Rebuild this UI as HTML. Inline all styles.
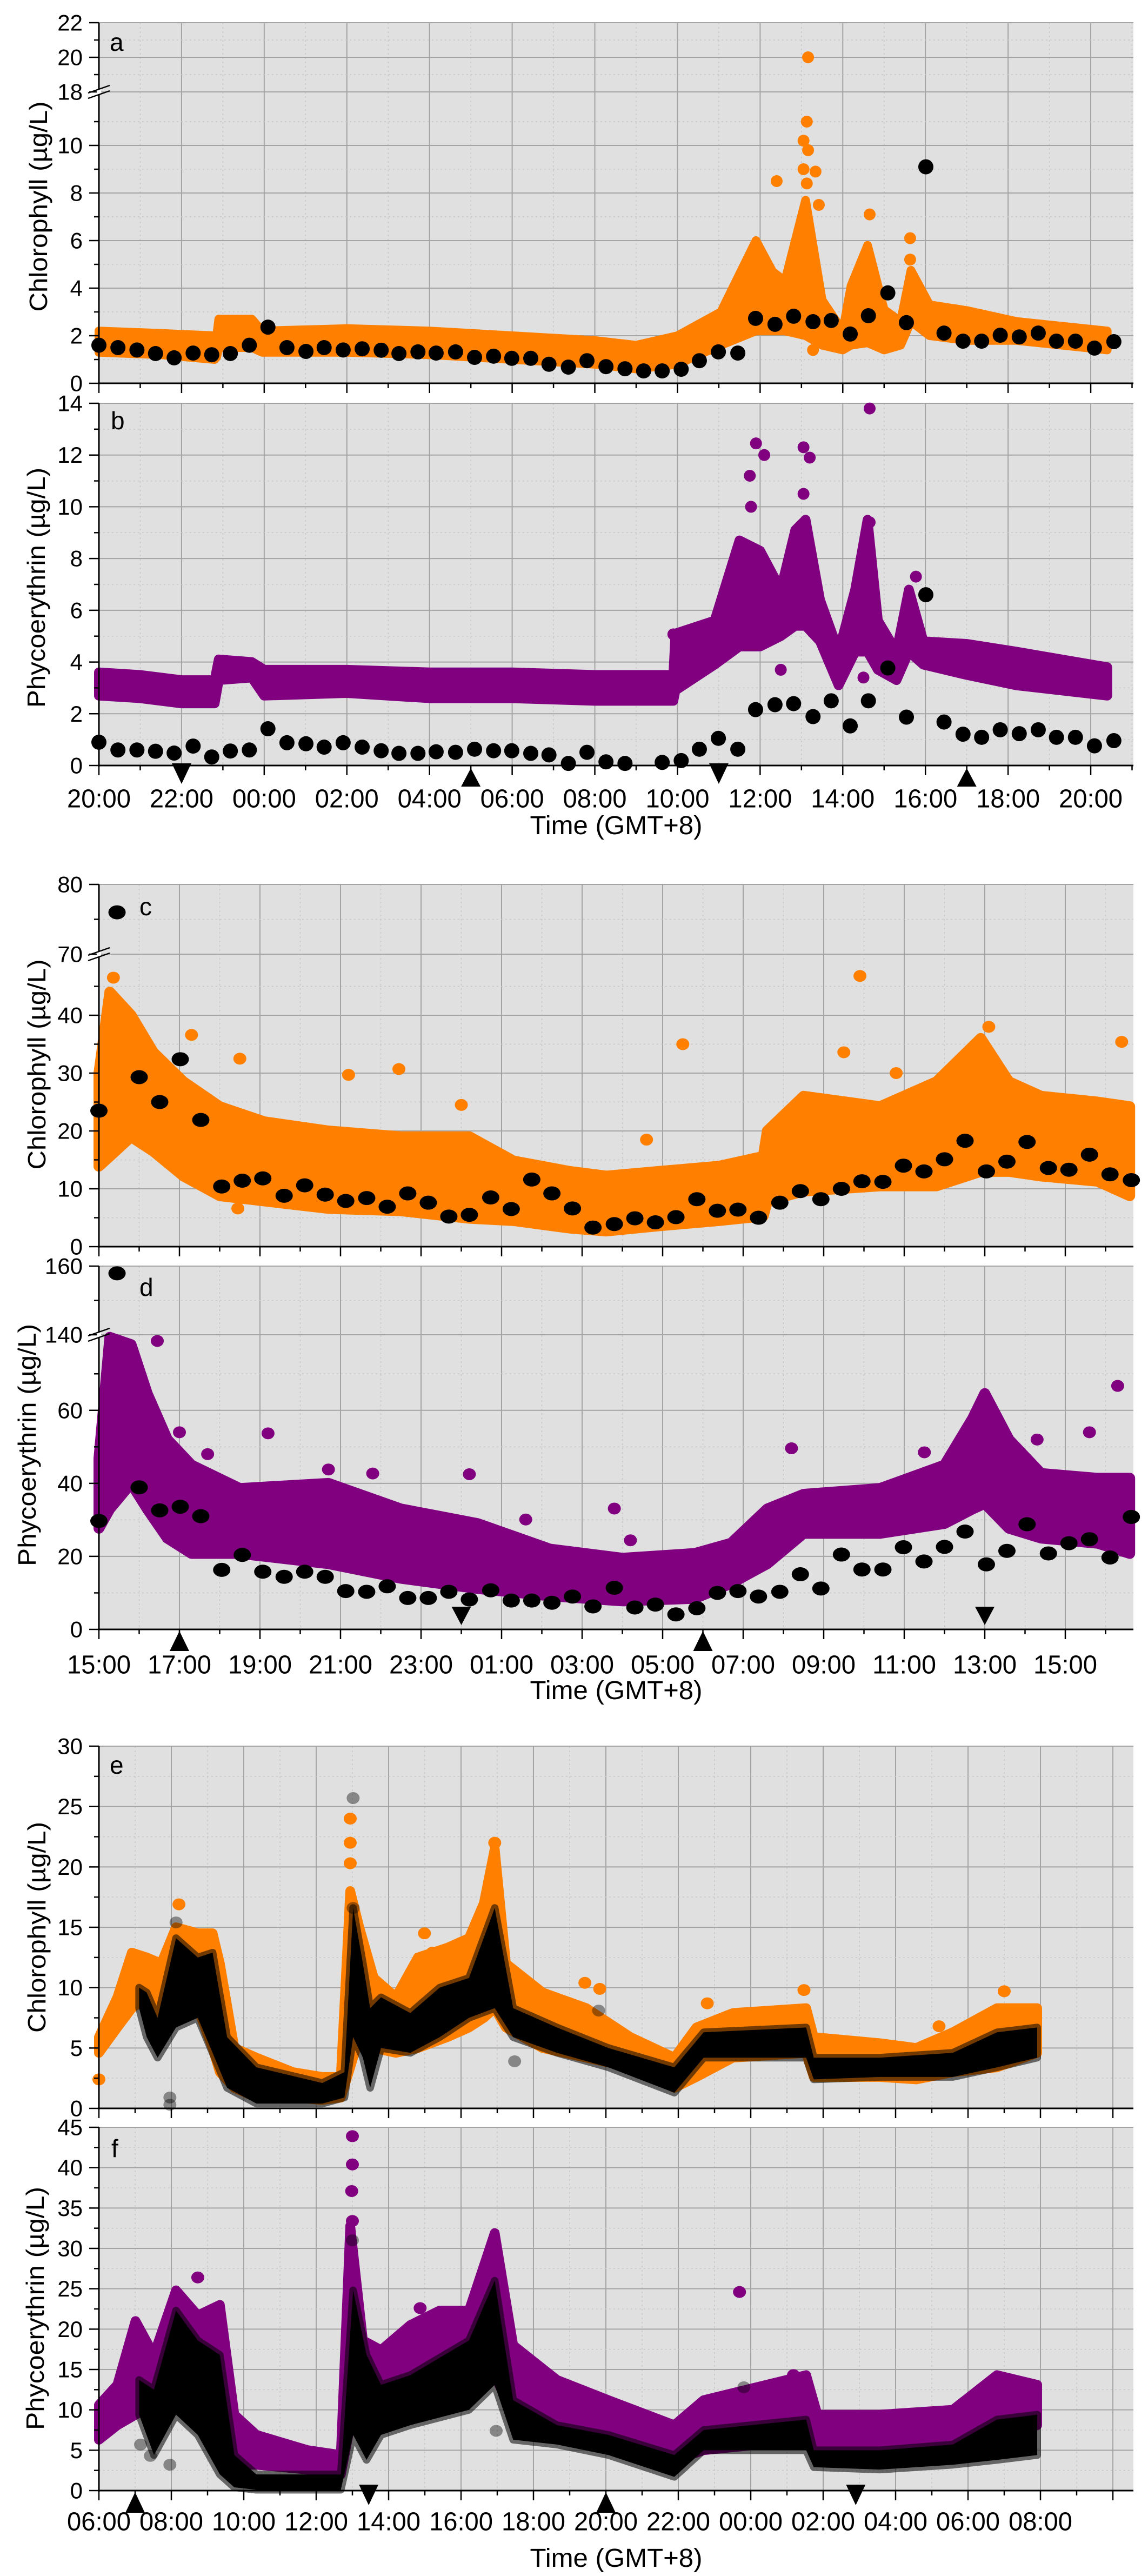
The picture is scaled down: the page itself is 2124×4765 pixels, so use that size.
<!DOCTYPE html>
<html><head><meta charset="utf-8"><title>Chlorophyll and phycoerythrin time series</title>
<style>html,body{margin:0;padding:0;background:#fff}svg{display:block}text{font-family:"Liberation Sans",sans-serif;fill:#000}</style>
</head><body>
<svg id="chart" xmlns="http://www.w3.org/2000/svg" width="2124" height="4765" viewBox="0 0 2124 4765"></svg>
<script>
// ---------- DATA ----------
// Panel a/b: hours since 20:00
const AB_DISC_T = [0,0.46,0.92,1.37,1.82,2.28,2.73,3.18,3.64,4.09,4.55,5.01,5.45,5.91,6.37,6.83,7.26,7.72,8.16,8.63,9.09,9.55,9.99,10.45,10.89,11.36,11.81,12.27,12.73,13.18,13.63,14.09,14.53,14.99,15.46,15.89,16.36,16.81,17.28,17.72,18.18,18.62,19.09,19.54,20.01,20.45,20.91,21.36,21.81,22.27,22.73,23.17,23.63,24.09,24.56];
const A_DISC_V = [1.6,1.5,1.4,1.25,1.07,1.27,1.2,1.25,1.6,2.36,1.5,1.34,1.5,1.4,1.45,1.39,1.25,1.32,1.27,1.32,1.09,1.14,1.05,1.05,0.8,0.68,0.95,0.7,0.61,0.52,0.52,0.59,0.95,1.32,1.27,2.73,2.48,2.82,2.59,2.64,2.07,2.84,3.8,2.55,9.1,2.11,1.77,1.77,2.02,1.95,2.11,1.77,1.77,1.48,1.75];
const B_DISC_V = [0.9,0.6,0.6,0.55,0.48,0.75,0.33,0.56,0.6,1.42,0.88,0.84,0.71,0.88,0.71,0.57,0.47,0.47,0.53,0.51,0.63,0.57,0.57,0.47,0.41,0.08,0.51,0.14,0.08,null,0.12,0.19,0.63,1.05,0.63,2.16,2.35,2.39,1.89,2.5,1.53,2.5,3.77,1.87,6.6,1.68,1.21,1.09,1.38,1.23,1.38,1.09,1.09,0.76,0.96];
const A_BAND_T = [0,1.5,2.8,2.85,2.9,3.7,3.95,6,8,10,12,13,14,15.05,15.9,16.3,16.6,17.1,17.5,18.0,18.2,18.6,19.0,19.4,19.65,20.1,21.0,22.2,24.4];
const A_BAND_LO = [1.3,1.2,1.0,1.1,1.5,1.5,1.3,1.3,1.2,1.0,0.8,0.6,0.8,1.6,2.2,2.2,2.2,2.0,1.6,1.4,1.6,1.7,1.4,1.6,2.6,2.0,1.8,1.8,1.4];
const A_BAND_HI = [2.2,2.1,2.0,2.0,2.7,2.7,2.2,2.3,2.2,2.0,1.8,1.6,2.0,3.0,6.0,4.7,4.3,7.7,3.5,2.2,4.1,5.8,3.1,2.6,4.75,3.3,3.06,2.6,2.2];
const A_OUT_T = [17.16,17.13,17.05,17.16,16.4,17.05,17.13,17.34,17.42,17.1,18.65,19.63,19.63,17.28];
const A_OUT_V = [20.0,11.0,10.2,9.8,8.5,9.0,8.4,8.9,7.5,6.9,7.1,6.1,5.2,1.4];
const B_BAND_T = [0,1.0,2.0,2.8,2.9,3.7,4.0,6,8,10,12,13.1,13.9,13.95,14.9,15.5,16.0,16.5,16.85,17.1,17.45,17.9,18.3,18.6,18.85,19.3,19.6,19.95,21.0,22.2,24.4];
const B_BAND_LO = [2.7,2.6,2.4,2.4,3.3,3.4,2.7,2.8,2.6,2.6,2.5,2.5,2.5,2.9,3.9,4.6,4.6,5.0,5.4,5.4,4.8,3.1,4.4,4.4,3.7,3.3,4.4,3.9,3.5,3.1,2.7];
const B_BAND_HI = [3.6,3.5,3.3,3.3,4.1,4.0,3.7,3.7,3.6,3.6,3.5,3.5,3.5,5.1,5.6,8.7,8.3,6.8,9.1,9.5,6.4,4.4,6.8,9.5,5.6,4.4,6.8,4.8,4.7,4.4,3.8];
const B_OUT_T = [18.65,15.9,16.1,15.75,15.78,17.05,17.2,17.05,18.65,16.5,19.77,13.9,18.5];
const B_OUT_V = [13.8,12.45,12.0,11.2,10.0,12.3,11.9,10.5,9.4,3.7,7.3,5.07,3.4];
const AB_TICK_LABELS = ['20:00','22:00','00:00','02:00','04:00','06:00','08:00','10:00','12:00','14:00','16:00','18:00','20:00'];
const AB_MARK_T = [2,9,15,21];
const AB_MARK_DIR = ['down','up','down','up'];

// Panel c/d: hours since 15:00
const CD_DISC_T = [0,0.45,1.0,1.51,2.02,2.53,3.05,3.56,4.07,4.6,5.11,5.62,6.13,6.65,7.16,7.67,8.18,8.69,9.2,9.73,10.24,10.75,11.25,11.76,12.27,12.8,13.31,13.82,14.33,14.85,15.36,15.87,16.38,16.91,17.42,17.93,18.44,18.95,19.47,19.98,20.49,21.0,21.51,22.04,22.55,23.05,23.58,24.09,24.6,25.11,25.64];
const C_DISC_V = [23.5,76,29.3,25.0,32.4,21.9,10.4,11.4,11.8,8.8,10.6,9.0,7.9,8.4,6.9,9.2,7.6,5.2,5.5,8.5,6.5,11.6,9.2,6.6,3.3,3.9,4.9,4.2,5.1,8.2,6.2,6.4,5.0,7.6,9.6,8.2,10.0,11.3,11.2,14.0,13.0,15.1,18.3,13.0,14.7,18.1,13.6,13.3,15.9,12.5,11.5];
const D_DISC_V = [29.7,157.9,38.9,32.6,33.6,31.0,16.3,20.4,15.8,14.4,15.8,14.4,10.5,10.3,11.8,8.6,8.6,10.3,8.2,10.7,7.9,7.9,7.3,9.0,6.3,11.4,6.0,6.8,4.1,5.8,10.0,10.5,9.0,10.3,15.1,11.2,20.5,16.4,16.4,22.5,18.6,22.6,26.8,17.8,21.5,28.8,20.8,23.6,24.7,19.7,30.8];
const C_BAND_T = [0,0.27,0.8,1.35,2.1,3.0,4.1,5.7,7.5,9.2,10.3,11.7,12.6,13.9,15.4,16.5,16.6,17.5,19.4,20.8,21.9,22.6,23.4,24.8,25.6];
const C_BAND_LO = [13.9,15.6,19,16.5,12.2,8.8,7.9,6.6,6.2,4.9,4.5,3.2,2.7,3.6,4.5,5.3,7.9,9.6,10.5,10.5,13,13,12.2,11.3,8.8];
const C_BAND_HI = [30,44,40,33.6,28.5,24.2,21.6,20,19,19,14.8,13,12.2,13,13.9,15.6,20,26,24.2,28.5,36,28.5,26,25,24.2];
const C_OUT_T = [0.36,2.3,3.5,6.2,7.45,9.0,14.5,13.6,18.9,18.5,19.8,22.1,25.4,3.45];
const C_OUT_V = [46.5,36.6,32.5,29.7,30.7,24.5,35,18.5,46.8,33.6,30,38,35.4,6.6];
const D_BAND_T = [0,0.27,0.8,1.2,1.7,2.3,3.5,5.7,7.5,9.4,11.2,13.0,14.8,15.7,16.6,17.5,19.4,21.0,21.7,22.0,22.6,23.4,24.8,25.6];
const D_BAND_LO = [27.7,33,40,33,25,20.8,20.8,18,14,11.2,9.2,7.8,8.5,12.6,18,26.3,26.3,29,33,34.5,27.7,25,23.6,20.8];
const D_BAND_HI = [46.8,80,78,64.6,52,45,38.6,40,33,29,22,19.5,20.8,23.6,33,37,38.6,45,57.8,64.6,52,42.7,41.4,41.4];
const D_OUT_T = [1.45,2.0,2.7,4.2,5.7,6.8,9.2,10.6,12.8,13.2,17.2,20.5,23.3,24.6,25.3];
const D_OUT_V = [79,54,48,53.7,43.8,42.7,42.5,30.1,33.1,24.4,49.6,48.5,52,54,66.7];
const CD_TICK_LABELS = ['15:00','17:00','19:00','21:00','23:00','01:00','03:00','05:00','07:00','09:00','11:00','13:00','15:00'];
const CD_MARK_T = [2,9,15,22];
const CD_MARK_DIR = ['up','down','up','down'];

// Panel e/f: hours since 06:00
const E_BAND_T = [0,0.51,0.91,1.32,1.72,2.13,2.73,3.14,3.34,3.74,4.35,5.36,6.17,6.68,6.94,7.19,7.59,8.2,8.81,9.62,10.22,10.63,10.93,11.24,12.25,13.46,14.68,15.89,16.5,17.51,19.53,19.74,21.56,22.57,23.58,24.8,25.91];
const E_BAND_LO = [4.6,6.7,8.3,9.2,6.7,8.3,8.3,5,3,1.7,0.9,0.9,0.7,0.9,3.4,5.9,5,4.6,5,5.9,6.7,7.5,8.3,6.7,5,4.2,3.4,1.7,2.6,4.2,4.6,2.6,2.6,2.4,3,3.4,4.6];
const E_BAND_HI = [5.9,9.2,12.9,12.5,12,15,14.5,14.5,12,5,4.2,3,2.6,2.6,18,15,10.8,9.2,12.5,13.3,14.1,17,21.5,12,9.6,8.3,5.9,4.2,6.7,7.9,8.3,5.9,5.4,5,6.3,8.3,8.3];
const E_BLK_T = [1.11,1.32,1.62,2.13,2.73,3.14,3.54,4.35,6.17,6.78,7.02,7.29,7.49,7.79,8.6,9.41,10.22,10.93,11.44,12.65,14.07,15.89,16.7,19.53,19.74,21.56,23.58,24.8,25.91];
const E_BLK_LO = [8.3,5.9,4.2,6.7,7.5,4.6,1.7,0.4,0.4,0.9,5.9,4.2,1.7,5,4.6,5.9,7.5,8.3,5.9,4.6,3.4,1.3,4.2,4.2,2.4,2.6,2.6,3.4,4.2];
const E_BLK_HI = [10,9.6,7.5,14.1,12.5,12.9,5.9,3.4,2.1,3,16.6,12,8.3,9.2,7.9,10,10.8,16.6,8.3,6.7,5,3.4,6.3,6.7,4.2,4.2,4.6,6.3,6.7];
const E_OUT_T = [2.21,6.94,6.94,6.94,8.99,9.21,10.93,13.42,13.83,16.8,19.47,23.2,25.0,0];
const E_OUT_V = [16.9,24,22,20.3,14.5,12.9,22,10.4,9.9,8.7,9.8,6.8,9.7,2.4];
const E_BOUT_T = [7.02,7.02,1.96,1.96,2.13,11.48,13.8];
const E_BOUT_V = [25.7,16.6,0.9,0.3,15.4,3.9,8.1];
const F_BAND_T = [0,0.51,1.01,1.52,2.13,2.73,3.34,3.74,4.35,5.77,6.68,6.94,7.29,7.79,8.6,9.41,10.22,10.93,11.44,12.65,14.07,15.89,16.7,19.53,19.84,21.56,23.58,24.8,25.91];
const F_BAND_LO = [6.3,8.1,9.4,10.6,14.3,12.5,5,3.2,3.2,2.6,2,8.1,9.4,8.8,10.6,11.2,12.5,14.3,9.4,8.1,6.3,3.8,5,6.3,5,5,5.7,6.9,8.1];
const F_BAND_HI = [10.6,13.1,21,16.8,24.8,21.7,23,9.4,6.9,5,4.4,32.8,18.6,17.4,20.5,22.3,22.3,31.9,18,13.7,11.2,8.1,11.2,14.3,9.4,9.4,10,14.3,13.1];
const F_BLK_T = [1.11,1.52,2.13,2.73,3.34,3.74,4.35,6.68,7.02,7.39,7.79,8.6,10.22,10.93,11.44,12.65,14.07,15.89,16.7,19.53,19.74,21.56,23.58,24.8,25.91];
const F_BLK_LO = [9.4,4.4,9.4,6.9,2,0.4,0.1,0.1,6.9,3.8,6.9,8.1,10,13.1,6.3,5.7,4.4,1.7,5,5,2.9,2.6,3.2,3.8,4.4];
const F_BLK_HI = [13.7,12.5,22.3,18.6,16.8,4.4,2,2,24.8,16.8,13.1,14.3,18.6,26,11.2,8.1,6.9,4.4,7.5,8.8,5,5,5.7,8.8,9.4];
const F_OUT_T = [7.0,7.0,6.98,7.0,2.73,17.69,8.87,19.18];
const F_OUT_V = [43.9,40.4,37.1,33.4,26.4,24.6,22.6,14.3];
const F_BOUT_T = [7.0,1.15,1.42,1.96,10.97,17.81];
const F_BOUT_V = [31,5.7,4.3,3.2,7.4,12.8];
const EF_TICK_LABELS = ['06:00','08:00','10:00','12:00','14:00','16:00','18:00','20:00','22:00','00:00','02:00','04:00','06:00','08:00'];
const EF_MARK_T = [1,7.45,14,20.9];
const EF_MARK_DIR = ['up','down','up','down'];

const Y_LABELS_A = [0,2,4,6,8,10,18,20,22];
const Y_MINOR_A = [1,3,5,7,9,11,19,21];
const Y_LABELS_B = [0,2,4,6,8,10,12,14];
const Y_MINOR_B = [1,3,5,7,9,11,13];
const Y_LABELS_C = [0,10,20,30,40,70,80];
const Y_MINOR_C = [5,15,25,35,45,75];
const Y_LABELS_D = [0,20,40,60,140,160];
const Y_MINOR_D = [10,30,50,70,150];
const Y_LABELS_E = [0,5,10,15,20,25,30];
const Y_MINOR_E = [2.5,7.5,12.5,17.5,22.5,27.5];
const Y_LABELS_F = [0,5,10,15,20,25,30,35,40,45];
const Y_MINOR_F = [2.5,7.5,12.5,17.5,22.5,27.5,32.5,37.5,42.5];

// ---------- RENDERING ----------
const NS = 'http://www.w3.org/2000/svg';
const svg = document.getElementById('chart');
const LEFT = 183, RIGHT = 2097;
function mk(tag, attrs, parent) {
  const e = document.createElementNS(NS, tag);
  for (const k in attrs) e.setAttribute(k, attrs[k]);
  (parent || svg).appendChild(e);
  return e;
}
function makeX(pxPerH) { return t => LEFT + t * pxPerH; }
function makeY(p) {
  return v => {
    if (p.breakY == null) return p.bottom - v * (p.bottom - p.top) / p.lowMax;
    if (v <= p.lowMax) return p.bottom - v * (p.bottom - p.breakY) / p.lowMax;
    if (v >= p.upMin) return p.breakY - (v - p.upMin) * (p.breakY - p.top) / (p.upMax - p.upMin);
    return p.breakY;
  };
}

function drawFrame(p, key, X, tMaxMajor, labels, yLabels, yMinor) {
  const Y = makeY(p);
  const g = mk('g', {});
  
  
  const bg = mk('rect', {x: LEFT, y: p.top, width: RIGHT - LEFT, height: p.bottom - p.top, fill: '#e0e0e0'}, g);
  
  
  const tEnd = (RIGHT - LEFT) / ((X(1) - X(0)));
  for (let t = 1; t <= tEnd; t += 2) {
    const l = mk('line', {x1: X(t), x2: X(t), y1: p.top, y2: p.bottom, stroke: '#c6c6c6', 'stroke-width': 1.5, 'stroke-dasharray': '3 5'}, g);
    
    
  }
  for (let t = 2; t <= tMaxMajor; t += 2) {
    const l = mk('line', {x1: X(t), x2: X(t), y1: p.top, y2: p.bottom, stroke: '#a4a4a4', 'stroke-width': 2}, g);
    
    
  }
  yMinor.forEach(v => {
    const l = mk('line', {x1: LEFT, x2: RIGHT, y1: Y(v), y2: Y(v), stroke: '#c6c6c6', 'stroke-width': 1.5, 'stroke-dasharray': '3 5'}, g);
    
    
  });
  yLabels.forEach(v => {
    if (v === 0) return;
    const l = mk('line', {x1: LEFT, x2: RIGHT, y1: Y(v), y2: Y(v), stroke: '#a4a4a4', 'stroke-width': 2}, g);
    
    
  });
  return {g, Y};
}

function drawAxes(p, key, X, tMaxMajor, labels, yLabels, yMinor, showX, labelY) {
  const Y = makeY(p);
  const g = mk('g', {});
  
  
  const ya = mk('line', {x1: LEFT, x2: LEFT, y1: p.top, y2: p.bottom + 2, stroke: '#000', 'stroke-width': 3}, g);
  
  
  const xa = mk('line', {x1: LEFT - 2, x2: RIGHT, y1: p.bottom, y2: p.bottom, stroke: '#000', 'stroke-width': 3}, g);
  
  
  yLabels.forEach(v => {
    const t = mk('line', {x1: LEFT - 18, x2: LEFT, y1: Y(v), y2: Y(v), stroke: '#000', 'stroke-width': 2.5}, g);
    
    
    const tx = mk('text', {x: 153, y: Y(v), 'text-anchor': 'end', 'dominant-baseline': 'central', 'font-size': 42}, g);
    
    
    tx.textContent = String(v);
  });
  yMinor.forEach(v => {
    const t = mk('line', {x1: LEFT - 9, x2: LEFT, y1: Y(v), y2: Y(v), stroke: '#000', 'stroke-width': 2.5}, g);
    
    
  });
  const tEnd = (RIGHT - LEFT) / (X(1) - X(0));
  for (let t = 0; t <= tEnd + 0.01; t += 1) {
    const major = t % 2 === 0;
    const tk = mk('line', {x1: X(t), x2: X(t), y1: p.bottom, y2: p.bottom + (major ? 18 : 9), stroke: '#000', 'stroke-width': 2.5}, g);
    
    
  }
  if (showX) {
    labels.forEach((s, i) => {
      const tx = mk('text', {x: X(i * 2), y: labelY, 'text-anchor': 'middle', 'dominant-baseline': 'central', 'font-size': 48, textLength: 118, lengthAdjust: 'spacingAndGlyphs'}, g);
      
      
      tx.textContent = s;
    });
  }
  if (p.breakY != null) {
    const w = mk('rect', {x: LEFT - 4, y: p.breakY - 5, width: 8, height: 10, fill: '#fff'}, g);
    
    
    [-5, 5].forEach(o => {
      const l = mk('line', {x1: LEFT - 20, y1: p.breakY + o + 7, x2: LEFT + 20, y2: p.breakY + o - 7, stroke: '#000', 'stroke-width': 2.5}, g);
      
      
    });
  }
}

function band(X, Y, T, LO, HI, fill, stroke, sw, name) {
  const pts = [];
  for (let i = 0; i < T.length; i++) pts.push(X(T[i]) + ',' + Y(HI[i]));
  for (let i = T.length - 1; i >= 0; i--) pts.push(X(T[i]) + ',' + Y(LO[i]));
  const pg = mk('polygon', {points: pts.join(' '), fill: fill, stroke: stroke, 'stroke-width': sw, 'stroke-linejoin': 'round'});
  
  
}
function dots(X, Y, T, V, rx, ry, fill, name) {
  for (let i = 0; i < T.length; i++) {
    if (V[i] == null) continue;
    const c = mk('ellipse', {cx: X(T[i]), cy: Y(V[i]), rx: rx, ry: ry, fill: fill});
    
    
  }
}
function markers(X, p, T, D, upOff, downOff) {
  for (let i = 0; i < T.length; i++) {
    const x = X(T[i]);
    let pts;
    if (D[i] === 'up') {
      const tip = p.bottom + upOff[0], base = p.bottom + upOff[1];
      pts = `${x},${tip} ${x - 18},${base} ${x + 18},${base}`;
    } else {
      const base = p.bottom + downOff[0], tip = p.bottom + downOff[1];
      pts = `${x - 18},${base} ${x + 18},${base} ${x},${tip}`;
    }
    const tr = mk('polygon', {points: pts, fill: '#000'});
    
    
  }
}
function textAt(x, y, s, size, name, extra) {
  const attrs = {x: x, y: y, 'font-size': size};
  for (const k in (extra || {})) attrs[k] = extra[k];
  const t = mk('text', attrs);
  
  
  t.textContent = s;
  return t;
}
function yTitle(x, y, s, len, name) {
  const t = mk('text', {x: 0, y: 0, 'font-size': 46, 'text-anchor': 'middle', 'dominant-baseline': 'central', textLength: len, lengthAdjust: 'spacingAndGlyphs', transform: `translate(${x},${y}) rotate(-90)`});
  
  
  t.textContent = s;
}

const ORANGE = '#ff8000', PURPLE = '#800080';
const PA = {top: 42, bottom: 709, lowMax: 12.25, breakY: 170, upMin: 18, upMax: 22};
const PB = {top: 746, bottom: 1416, lowMax: 14, breakY: null};
const PC = {top: 1636, bottom: 2306, lowMax: 50.56, breakY: 1765, upMin: 70, upMax: 80};
const PD = {top: 2342, bottom: 3014, lowMax: 80.7, breakY: 2469, upMin: 140, upMax: 160};
const PE = {top: 3230, bottom: 3900, lowMax: 30, breakY: null};
const PF = {top: 3935, bottom: 4607, lowMax: 45, breakY: null};
const XAB = makeX(76.46), XCD = makeX(74.5), XEF = makeX(67);

// Panel a
let r = drawFrame(PA, 'a', XAB, 24, AB_TICK_LABELS, Y_LABELS_A, Y_MINOR_A);
band(XAB, r.Y, A_BAND_T, A_BAND_LO, A_BAND_HI, ORANGE, ORANGE, 16, 'chlorophyll-sensor-band-a');
dots(XAB, r.Y, A_OUT_T, A_OUT_V, 11, 11, ORANGE, 'chlorophyll-sensor-point-a');
dots(XAB, r.Y, AB_DISC_T, A_DISC_V, 14, 14, '#000', 'chlorophyll-sample-point-a');
drawAxes(PA, 'a', XAB, 24, AB_TICK_LABELS, Y_LABELS_A, Y_MINOR_A, false, 0);
// Panel b
r = drawFrame(PB, 'b', XAB, 24, AB_TICK_LABELS, Y_LABELS_B, Y_MINOR_B);
band(XAB, r.Y, B_BAND_T, B_BAND_LO, B_BAND_HI, PURPLE, PURPLE, 18, 'phycoerythrin-sensor-band-b');
dots(XAB, r.Y, B_OUT_T, B_OUT_V, 11, 11, PURPLE, 'phycoerythrin-sensor-point-b');
dots(XAB, r.Y, AB_DISC_T, B_DISC_V, 14, 14, '#000', 'phycoerythrin-sample-point-b');
drawAxes(PB, 'b', XAB, 24, AB_TICK_LABELS, Y_LABELS_B, Y_MINOR_B, true, 1478);
markers(XAB, PB, AB_MARK_T, AB_MARK_DIR, [5, 39], [-4, 34]);
// Panel c
r = drawFrame(PC, 'c', XCD, 24, CD_TICK_LABELS, Y_LABELS_C, Y_MINOR_C);
band(XCD, r.Y, C_BAND_T, C_BAND_LO, C_BAND_HI, ORANGE, ORANGE, 20, 'chlorophyll-sensor-band-c');
dots(XCD, r.Y, C_OUT_T, C_OUT_V, 12, 11, ORANGE, 'chlorophyll-sensor-point-c');
dots(XCD, r.Y, CD_DISC_T, C_DISC_V, 16, 13, '#000', 'chlorophyll-sample-point-c');
drawAxes(PC, 'c', XCD, 24, CD_TICK_LABELS, Y_LABELS_C, Y_MINOR_C, false, 0);
// Panel d
r = drawFrame(PD, 'd', XCD, 24, CD_TICK_LABELS, Y_LABELS_D, Y_MINOR_D);
band(XCD, r.Y, D_BAND_T, D_BAND_LO, D_BAND_HI, PURPLE, PURPLE, 20, 'phycoerythrin-sensor-band-d');
dots(XCD, r.Y, D_OUT_T, D_OUT_V, 12, 11, PURPLE, 'phycoerythrin-sensor-point-d');
dots(XCD, r.Y, CD_DISC_T, D_DISC_V, 16, 13, '#000', 'phycoerythrin-sample-point-d');
drawAxes(PD, 'd', XCD, 24, CD_TICK_LABELS, Y_LABELS_D, Y_MINOR_D, true, 3080);
markers(XCD, PD, CD_MARK_T, CD_MARK_DIR, [3, 40], [-42, -8]);
// Panel e
r = drawFrame(PE, 'e', XEF, 28, EF_TICK_LABELS, Y_LABELS_E, Y_MINOR_E);
band(XEF, r.Y, E_BAND_T, E_BAND_LO, E_BAND_HI, ORANGE, ORANGE, 18, 'chlorophyll-sensor-band-e');
dots(XEF, r.Y, E_OUT_T, E_OUT_V, 12, 11, ORANGE, 'chlorophyll-sensor-point-e');
band(XEF, r.Y, E_BLK_T, E_BLK_LO, E_BLK_HI, '#000', 'rgba(0,0,0,0.55)', 14, 'chlorophyll-reference-band-e');
dots(XEF, r.Y, E_BOUT_T, E_BOUT_V, 12, 11, 'rgba(0,0,0,0.4)', 'chlorophyll-reference-point-e');
drawAxes(PE, 'e', XEF, 28, EF_TICK_LABELS, Y_LABELS_E, Y_MINOR_E, false, 0);
// Panel f
r = drawFrame(PF, 'f', XEF, 28, EF_TICK_LABELS, Y_LABELS_F, Y_MINOR_F);
band(XEF, r.Y, F_BAND_T, F_BAND_LO, F_BAND_HI, PURPLE, PURPLE, 18, 'phycoerythrin-sensor-band-f');
dots(XEF, r.Y, F_OUT_T, F_OUT_V, 12, 11, PURPLE, 'phycoerythrin-sensor-point-f');
band(XEF, r.Y, F_BLK_T, F_BLK_LO, F_BLK_HI, '#000', 'rgba(0,0,0,0.55)', 14, 'phycoerythrin-reference-band-f');
dots(XEF, r.Y, F_BOUT_T, F_BOUT_V, 12, 11, 'rgba(0,0,0,0.4)', 'phycoerythrin-reference-point-f');
drawAxes(PF, 'f', XEF, 28, EF_TICK_LABELS, Y_LABELS_F, Y_MINOR_F, true, 4665);
markers(XEF, PF, EF_MARK_T, EF_MARK_DIR, [3, 41], [-11, 27]);

// Panel letters
textAt(203, 94, 'a', 46, 'panel-label-a');
textAt(205, 794, 'b', 46, 'panel-label-b');
textAt(258, 1693, 'c', 46, 'panel-label-c');
textAt(258, 2397, 'd', 46, 'panel-label-d');
textAt(203, 3281, 'e', 46, 'panel-label-e');
textAt(206, 3990, 'f', 46, 'panel-label-f');
// Axis titles
yTitle(71, 382, 'Chlorophyll (µg/L)', 389, 'y-axis-title-a');
yTitle(67, 1087, 'Phycoerythrin (µg/L)', 444, 'y-axis-title-b');
yTitle(68, 1969, 'Chlorophyll (µg/L)', 389, 'y-axis-title-c');
yTitle(50, 2673, 'Phycoerythrin (µg/L)', 448, 'y-axis-title-d');
yTitle(68, 3565, 'Chlorophyll (µg/L)', 390, 'y-axis-title-e');
yTitle(65, 4270, 'Phycoerythrin (µg/L)', 450, 'y-axis-title-f');
textAt(1140, 1543, 'Time (GMT+8)', 48, 'x-axis-title-ab', {'text-anchor': 'middle', textLength: 319, lengthAdjust: 'spacingAndGlyphs'});
textAt(1140, 3143, 'Time (GMT+8)', 48, 'x-axis-title-cd', {'text-anchor': 'middle', textLength: 319, lengthAdjust: 'spacingAndGlyphs'});
textAt(1140, 4748, 'Time (GMT+8)', 48, 'x-axis-title-ef', {'text-anchor': 'middle', textLength: 319, lengthAdjust: 'spacingAndGlyphs'});
</script>
</body></html>
